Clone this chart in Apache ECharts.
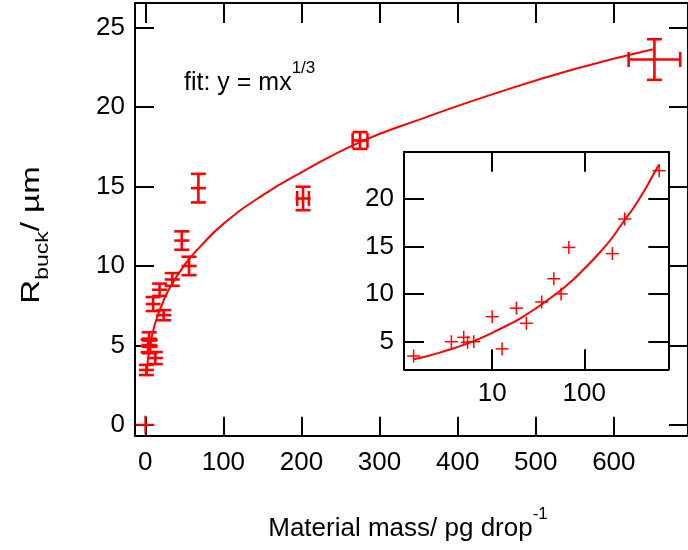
<!DOCTYPE html>
<html><head><meta charset="utf-8">
<script src="https://cdn.jsdelivr.net/npm/echarts@6/dist/echarts.min.js"></script>
<style>html,body{margin:0;padding:0;background:#fff}#c{width:688px;height:550px}</style>
</head><body><div id="c"></div>
<script>
// ---- data ----
const massX   = [1.4, 3.6, 4.9, 5.4, 6.3, 10.0, 12.8, 18.3, 23.5, 34.5, 46.7, 56.0, 68.0, 202, 275, 652];
const radiusY = [3.45, 4.96, 5.42, 4.9, 4.96, 7.6, 4.2, 8.5, 6.9, 9.15, 11.6, 10.0, 14.9, 14.25, 17.9, 23.0];
const xErr    = [0.5, 0.5, 0.5, 0.5, 0.5, 1, 1, 1.5, 1.5, 2, 3, 3, 4, 7.5, 9.5, 33];
const yErr    = [0.32, 0.4, 0.4, 0.4, 0.4, 0.44, 0.38, 0.39, 0.32, 0.4, 0.58, 0.58, 0.9, 0.74, 0.53, 1.28];
const originX = [0];
const originY = [0];
const fitX = [1.4, 2, 3, 5, 7, 10, 15, 20, 30, 50, 70, 100, 150, 200, 275, 350, 450, 550, 650];
const fitY = [3.1, 3.45, 3.95, 4.65, 5.2, 5.9, 6.75, 7.4, 8.5, 10.05, 11.2, 12.65, 14.45, 15.9, 17.8, 19.2, 20.9, 22.4, 23.65];
const xTicks = [0, 100, 200, 300, 400, 500, 600];
const yTicks = [0, 5, 10, 15, 20, 25];
const insetYTicks = [5, 10, 15, 20];

const RED = '#ff0000';
const FONT = '"Liberation Sans", Arial, sans-serif';
const BLACK = '#000';

const chart = echarts.init(document.getElementById('c'), null, {renderer: 'canvas'});

function valAxis(o) {
  return Object.assign({
    type: 'value',
    splitLine: {show: false},
    axisLine: {show: true, onZero: false, lineStyle: {color: BLACK, width: 2}},
    axisTick: {show: true, inside: true, length: 19, lineStyle: {color: BLACK, width: 2}},
    axisLabel: {show: false}
  }, o);
}
function lbl(vals, margin) {
  return {show: true, customValues: vals, color: BLACK, fontSize: 26, fontFamily: FONT, margin: margin};
}
function tk(vals, len) {
  return {show: true, inside: true, length: len, customValues: vals, lineStyle: {color: BLACK, width: 2}};
}

const mainData = massX.map((x, i) => [x, radiusY[i], xErr[i], yErr[i]]);

function errRender(params, api) {
  const x = api.value(0), y = api.value(1), xe = api.value(2), ye = api.value(3);
  const c = api.coord([x, y]);
  const t = api.coord([x, y + ye]), b = api.coord([x, y - ye]);
  const l = api.coord([x - xe, y]), r = api.coord([x + xe, y]);
  const cap = 7.5;
  const hx = Math.max((r[0] - l[0]) / 2, 7.5);
  const st = {stroke: RED, lineWidth: 2.6};
  const ch = [
    {type: 'line', shape: {x1: c[0], y1: t[1], x2: c[0], y2: b[1]}, style: st},
    {type: 'line', shape: {x1: c[0] - cap, y1: t[1], x2: c[0] + cap, y2: t[1]}, style: st},
    {type: 'line', shape: {x1: c[0] - cap, y1: b[1], x2: c[0] + cap, y2: b[1]}, style: st},
    {type: 'line', shape: {x1: c[0] - hx, y1: c[1], x2: c[0] + hx, y2: c[1]}, style: st}
  ];
  if ((r[0] - l[0]) / 2 >= 5) {
    ch.push({type: 'line', shape: {x1: l[0], y1: c[1] - cap, x2: l[0], y2: c[1] + cap}, style: st});
    ch.push({type: 'line', shape: {x1: r[0], y1: c[1] - cap, x2: r[0], y2: c[1] + cap}, style: st});
  }
  return {type: 'group', children: ch};
}
function plusRender(size, lw) {
  return function (params, api) {
    const c = api.coord([api.value(0), api.value(1)]);
    const st = {stroke: RED, lineWidth: lw};
    return {type: 'group', children: [
      {type: 'line', shape: {x1: c[0] - size, y1: c[1], x2: c[0] + size, y2: c[1]}, style: st},
      {type: 'line', shape: {x1: c[0], y1: c[1] - size, x2: c[0], y2: c[1] + size}, style: st}
    ]};
  };
}

const option = {
  animation: false,
  backgroundColor: '#fff',
  grid: [
    {left: 135, top: 3, width: 557, height: 432.7, show: false},
    {left: 404, top: 151.7, width: 264.3, height: 217.6, show: false}
  ],
  xAxis: [
    valAxis({gridIndex: 0, position: 'bottom', min: -13.2, max: 695, axisTick: tk(xTicks, 19), axisLabel: lbl(xTicks, 14)}),
    valAxis({gridIndex: 0, position: 'top', min: -13.2, max: 695, axisTick: tk(xTicks, 20)}),
    {type: 'log', logBase: 10, gridIndex: 1, position: 'bottom', min: 1.1, max: 819,
      splitLine: {show: false}, minorTick: {show: false},
      axisLine: {show: true, onZero: false, lineStyle: {color: BLACK, width: 2}},
      axisTick: {show: true, inside: true, length: 20, lineStyle: {color: BLACK, width: 2}},
      axisLabel: {show: true, showMinLabel: false, showMaxLabel: false, color: BLACK, fontSize: 26, fontFamily: FONT, margin: 12}},
    {type: 'log', logBase: 10, gridIndex: 1, position: 'top', min: 1.1, max: 819,
      splitLine: {show: false}, minorTick: {show: false},
      axisLine: {show: true, onZero: false, lineStyle: {color: BLACK, width: 2}},
      axisTick: {show: true, inside: true, length: 20, lineStyle: {color: BLACK, width: 2}},
      axisLabel: {show: false}}
  ],
  yAxis: [
    valAxis({gridIndex: 0, position: 'left', min: -0.69, max: 26.56, axisTick: tk(yTicks, 19), axisLabel: lbl(yTicks, 10)}),
    valAxis({gridIndex: 0, position: 'right', min: -0.69, max: 26.56, axisTick: tk(yTicks, 19)}),
    valAxis({gridIndex: 1, position: 'left', min: 2.05, max: 25, axisTick: tk(insetYTicks, 20), axisLabel: lbl(insetYTicks, 10)}),
    valAxis({gridIndex: 1, position: 'right', min: 2.05, max: 25, axisTick: tk(insetYTicks, 20)})
  ],
  series: [
    {type: 'line', xAxisIndex: 0, yAxisIndex: 0, data: fitX.map((x, i) => [x, fitY[i]]),
      smooth: 0.5, showSymbol: false, symbol: 'none',
      lineStyle: {color: RED, width: 2}, z: 3},
    {type: 'custom', xAxisIndex: 0, yAxisIndex: 0, data: mainData, renderItem: errRender, z: 4},
    {type: 'custom', xAxisIndex: 0, yAxisIndex: 0, data: originX.map((x, i) => [x, originY[i]]), renderItem: plusRender(9, 2), z: 4},
    {type: 'line', xAxisIndex: 2, yAxisIndex: 2, data: fitX.map((x, i) => [x, fitY[i]]),
      smooth: 0.5, showSymbol: false, symbol: 'none',
      lineStyle: {color: RED, width: 2}, z: 3},
    {type: 'custom', xAxisIndex: 2, yAxisIndex: 2, data: massX.map((x, i) => [x, radiusY[i]]), renderItem: plusRender(6.5, 1.5), z: 4}
  ],
  graphic: [
    {type: 'text', x: 184, y: 60, style: {
      text: '{n|fit: y = mx}{s|1/3}',
      rich: {
        n: {fontSize: 25, fontFamily: FONT, fill: BLACK, lineHeight: 36, verticalAlign: 'bottom'},
        s: {fontSize: 17, fontFamily: FONT, fill: BLACK, lineHeight: 20, verticalAlign: 'top'}
      }}},
    {type: 'text', x: 35, y: 235, rotation: Math.PI / 2, scaleY: 0.8, style: {
      text: '{n|R}{b|buck}{n|/ µm}', align: 'center', verticalAlign: 'middle',
      rich: {
        n: {fontSize: 33, fontFamily: FONT, fill: BLACK, lineHeight: 42, verticalAlign: 'top'},
        b: {fontSize: 23, fontFamily: FONT, fill: BLACK, lineHeight: 23, verticalAlign: 'bottom'}
      }}},
    {type: 'text', x: 408, y: 524, style: {
      text: '{n|Material mass/ pg drop}{s|-1}', align: 'center', verticalAlign: 'middle',
      rich: {
        n: {fontSize: 26, fontFamily: FONT, fill: BLACK, lineHeight: 36, verticalAlign: 'bottom'},
        s: {fontSize: 17, fontFamily: FONT, fill: BLACK, lineHeight: 20, verticalAlign: 'top'}
      }}}
  ]
};
chart.setOption(option);
</script>
</body></html>
